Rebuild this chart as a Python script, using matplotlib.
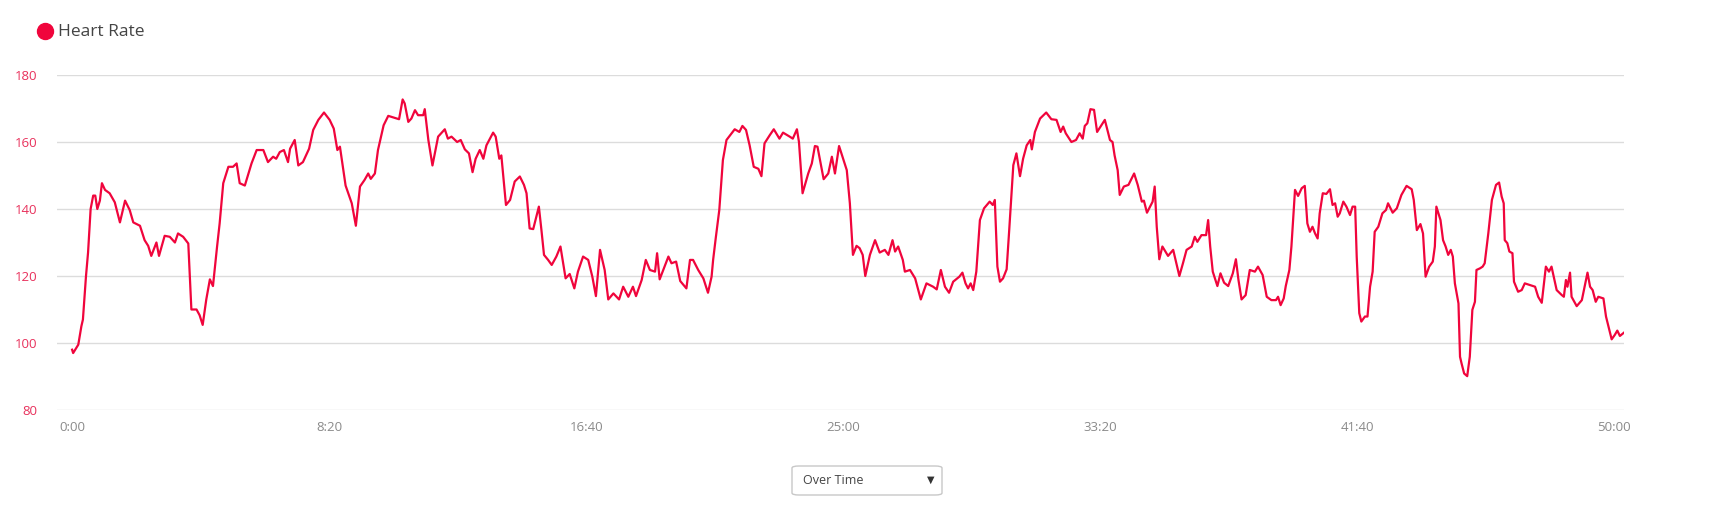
import matplotlib
matplotlib.use("Agg")
import matplotlib.pyplot as plt
from matplotlib.patches import FancyBboxPatch
from matplotlib.lines import Line2D

# heart rate samples: time in seconds, bpm
t_sec = [0, 2, 12, 18, 21, 27, 31, 36, 41, 45, 49, 54, 58, 64, 73, 83, 93, 103, 112, 119,
         132, 141, 148, 154, 164, 169, 180, 190, 200, 206, 216, 226, 229, 232, 242, 248, 254, 261, 268, 274,
         282, 287, 294, 304, 313, 320, 326, 336, 349, 359, 372, 381, 391, 397, 404, 412, 420, 424, 433, 440,
         449, 461, 469, 479, 490, 501, 509, 516, 521, 532, 544, 552, 560, 569, 576, 581, 589, 595, 606, 615,
         636, 643, 647, 654, 660, 667, 673, 683, 686, 693, 701, 712, 725, 731, 738, 749, 756, 764, 772, 779,
         785, 793, 800, 806, 819, 824, 831, 835, 844, 852, 861, 871, 879, 884, 890, 897, 908, 913, 918, 926,
         933, 942, 950, 960, 968, 977, 984, 994, 1004, 1012, 1019, 1027, 1036, 1043, 1053, 1064, 1072, 1082, 1091, 1097,
         1108, 1116, 1124, 1134, 1138, 1143, 1160, 1166, 1175, 1183, 1195, 1202, 1208, 1218, 1228, 1237, 1244, 1247, 1252, 1259,
         1266, 1273, 1280, 1289, 1298, 1304, 1311, 1318, 1326, 1335, 1341, 1347, 1357, 1365, 1376, 1383, 1396, 1402, 1410, 1414,
         1421, 1432, 1439, 1445, 1450, 1462, 1471, 1478, 1484, 1492, 1500, 1507, 1513, 1519, 1526, 1532, 1538, 1543, 1552, 1562,
         1571, 1581, 1588, 1596, 1601, 1607, 1616, 1620, 1630, 1640, 1651, 1662, 1675, 1682, 1690, 1698, 1706, 1714, 1726, 1732,
         1738, 1743, 1748, 1753, 1759, 1766, 1774, 1785, 1791, 1795, 1800, 1805, 1811, 1818, 1823, 1831, 1837, 1844, 1850, 1857,
         1864, 1867, 1873, 1883, 1895, 1905, 1915, 1923, 1928, 1933, 1944, 1953, 1960, 1966, 1970, 1975, 1981, 1988, 1994, 2009,
         2019, 2024, 2028, 2034, 2038, 2046, 2055, 2066, 2073, 2081, 2085, 2091, 2102, 2106, 2110, 2115, 2121, 2132, 2142, 2154,
         2161, 2168, 2178, 2184, 2189, 2197, 2206, 2210, 2214, 2219, 2228, 2234, 2241, 2249, 2258, 2264, 2269, 2275, 2283, 2291,
         2301, 2307, 2316, 2324, 2333, 2342, 2346, 2351, 2357, 2361, 2368, 2372, 2379, 2385, 2392, 2398, 2403, 2408, 2413, 2418,
         2423, 2427, 2433, 2440, 2447, 2452, 2457, 2462, 2466, 2473, 2479, 2486, 2491, 2496, 2499, 2504, 2508, 2515, 2520, 2525,
         2530, 2534, 2541, 2549, 2556, 2560, 2569, 2577, 2586, 2596, 2606, 2610, 2616, 2623, 2628, 2633, 2640, 2647, 2651, 2654,
         2662, 2667, 2672, 2677, 2682, 2686, 2690, 2697, 2700, 2703, 2708, 2714, 2719, 2724, 2729, 2732, 2739, 2744, 2748, 2755,
         2762, 2770, 2776, 2781, 2785, 2787, 2792, 2796, 2802, 2805, 2813, 2820, 2826, 2836, 2846, 2852, 2859, 2867, 2873, 2878,
         2888, 2898, 2902, 2906, 2909, 2914, 2917, 2927, 2937, 2948, 2953, 2958, 2964, 2969, 2979, 2984, 2995, 3001, 3006, 3011,
         3019]
bpm = [98, 97, 99.5, 105, 107, 120, 127, 140, 144, 144, 140, 142.5, 147.7, 145.7, 144.7, 142, 136, 142.5, 139.7, 136,
       135, 130.7, 129, 126, 130, 126, 132, 131.7, 130, 132.7, 131.7, 129.7, 120, 110, 110, 108.3, 105.4, 113, 119, 117,
       128.8, 135.7, 147.7, 152.6, 152.6, 153.6, 147.7, 147, 153.6, 157.6, 157.6, 154, 155.6, 155, 157, 157.6, 154, 158, 160.6, 153,
       154, 158, 163.6, 166.6, 168.8, 166.6, 164, 157.6, 158.6, 147, 141.7, 135, 146.7, 148.7, 150.6, 149, 150.6, 157.6, 165, 167.8,
       166.8, 172.7, 171.5, 166, 167, 169.5, 168, 168, 169.8, 160.6, 153, 161.6, 163.8, 161, 161.6, 160, 160.6, 157.8, 156.6, 151,
       155, 157.6, 155, 159, 162.8, 161.6, 155, 156, 141.2, 142.7, 148.2, 149.7, 147.2, 144.7, 134.2, 134, 140.7, 133.7, 126.3, 124.8,
       123.3, 125.8, 128.8, 119.3, 120.6, 116.3, 121.3, 125.8, 124.8, 119.8, 114, 127.8, 121.8, 113, 114.8, 113, 116.8, 113.8, 116.8, 114,
       118.8, 124.8, 121.8, 121.3, 126.8, 119, 125.8, 123.8, 124.3, 118.5, 116.3, 124.8, 124.8, 121.8, 119.3, 115, 119.8, 124.8, 131.2, 139.7,
       154.6, 160.6, 162, 163.8, 163, 164.8, 163.6, 159, 152.6, 152, 149.8, 159.6, 162, 163.8, 161, 162.8, 161.6, 161, 163.8, 160,
       144.7, 150.6, 153.6, 158.8, 158.6, 148.9, 150.6, 155.6, 150.6, 158.8, 155, 151.6, 141.7, 126.3, 129, 128.3, 126.3, 120, 126.3, 130.7,
       127, 127.8, 126.3, 130.7, 127.3, 128.8, 124.8, 121.3, 121.8, 119.3, 113, 117.8, 116.8, 116, 121.8, 116.8, 115, 118.3, 119.8, 121,
       117.8, 116.3, 117.8, 115.8, 121.3, 136.7, 140.2, 142.2, 141.2, 142.7, 122.8, 118.3, 119.3, 122, 133.7, 153.1, 156.6, 149.8, 155, 159,
       160.6, 157.8, 163, 167, 168.8, 166.8, 166.6, 163, 164.6, 162.6, 160, 160.6, 162.6, 161, 164.8, 165.6, 169.8, 169.6, 163, 166.6,
       160.6, 160, 156, 151.6, 144.2, 146.7, 147.2, 150.6, 147.2, 142.2, 142.5, 138.9, 142.2, 146.7, 134.7, 125, 128.8, 126, 127.8, 120,
       123.8, 127.8, 128.8, 131.7, 130.2, 132.2, 132.2, 136.7, 128.8, 121.3, 117, 120.8, 118, 117, 120.8, 125, 118.8, 113, 114.3, 121.8,
       121.3, 122.8, 120.3, 113.8, 112.8, 112.8, 113.8, 111.3, 113.3, 117, 121.8, 128.8, 145.7, 143.9, 146.2, 146.9, 135.7, 133.2, 134.7, 132.7,
       131.2, 138.7, 144.7, 144.5, 145.9, 141.2, 141.7, 137.7, 138.7, 142.2, 140.7, 138.2, 140.7, 140.7, 125.8, 108.9, 106.4, 107.9, 107.9, 116.8,
       121.3, 133.2, 134.7, 138.7, 139.7, 141.7, 138.9, 140.2, 144.2, 146.9, 145.9, 142.7, 133.7, 135.5, 132.7, 119.8, 122.8, 124.3, 128.8, 140.7,
       136.7, 130.7, 128.8, 126.3, 127.8, 125.8, 117.8, 111.8, 95.9, 93.9, 90.9, 90.1, 95.9, 109.9, 112.3, 121.8, 122.3, 122.8, 123.8, 132.7,
       142.7, 147.2, 147.9, 143.7, 141.7, 130.7, 129.8, 127.3, 126.8, 118.3, 115.3, 115.8, 117.8, 117.3, 116.8, 113.8, 112, 122.8, 121.3, 122.8,
       115.8, 114.3, 113.8, 118.8, 116.8, 121, 113.8, 111, 112.8, 121, 116.8, 115.8, 112.3, 113.8, 113.3, 107.9, 101.1, 102.4, 103.7, 102.1,
       103.1]

x_ticks = [0, 500, 1000, 1500, 2000, 2500, 3000]
x_labels = ["0:00", "8:20", "16:40", "25:00", "33:20", "41:40", "50:00"]
y_ticks = [80, 100, 120, 140, 160, 180]

line_color = "#f0053c"

plt.rcParams['font.family'] = ['Open Sans', 'DejaVu Sans']

fig = plt.figure(figsize=(17.28, 5.09), dpi=100)
ax = fig.add_axes([56.7 / 1728, 1 - 410 / 509, (1624 - 56.7) / 1728, 335 / 509])

ax.plot(t_sec, bpm, color=line_color, lw=1.6, solid_joinstyle="round")

ax.set_xlim(-30, 3019)
ax.set_ylim(80, 180)
ax.set_yticks(y_ticks)
ax.set_yticklabels([str(v) for v in y_ticks])
ax.set_xticks(x_ticks)
ax.set_xticklabels(x_labels)
ax.grid(axis="y", color="#dcdcdc", lw=1)
ax.grid(axis="x", visible=False)
for s in ax.spines.values():
    s.set_visible(False)
ax.tick_params(axis="y", length=0, pad=14, labelsize=9.5, labelcolor="#e8315c")
ax.tick_params(axis="x", length=0, pad=8, labelsize=9.5, labelcolor="#8a8a8a")

# legend dot + label
fig.add_artist(Line2D([45 / 1728], [1 - 31 / 509], marker="o", markersize=11.5,
                      color=line_color, transform=fig.transFigure))
fig.text(58 / 1728, 1 - 32 / 509, "Heart Rate", fontsize=12.5, color="#444444", va="center")

# "Over Time" select box
box = FancyBboxPatch((792 / 1728, 1 - 495 / 509), 150 / 1728, 29 / 509,
                     boxstyle="round,pad=0,rounding_size=0.004", transform=fig.transFigure,
                     facecolor="white", edgecolor="#c8c8c8", lw=1)
fig.add_artist(box)
fig.text(803 / 1728, 1 - 481 / 509, "Over Time", fontsize=9, color="#444444", va="center")
fig.text(931 / 1728, 1 - 480 / 509, "▼", fontsize=7, color="#333333", va="center", ha="center",
         family="DejaVu Sans")

fig.savefig("out.png", dpi=100)
